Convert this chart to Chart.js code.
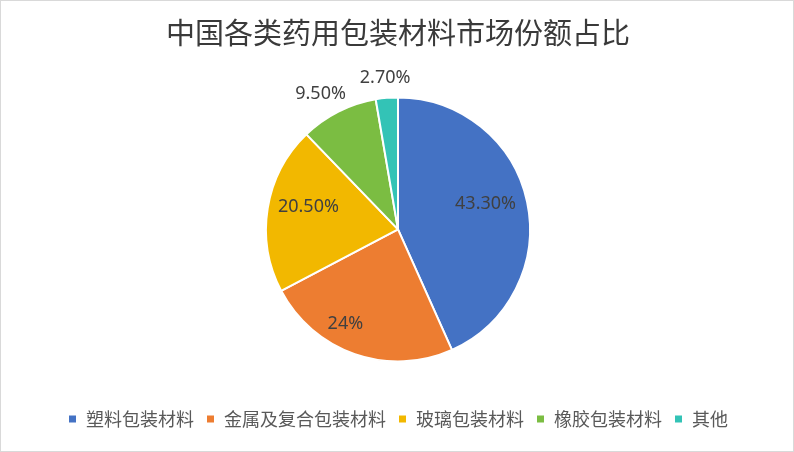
<!DOCTYPE html>
<html>
<head>
<meta charset="utf-8">
<script src="https://cdn.jsdelivr.net/npm/chart.js@4"></script>
<style>
  html, body { margin: 0; padding: 0; background: #fff; }
  #wrap { position: relative; width: 794px; height: 452px; box-sizing: border-box; border: 1px solid #d9d9d9; }
  canvas { display: block; }
</style>
</head>
<body>
<div id="wrap"><canvas id="chart" width="792" height="450"></canvas></div>
<script>
/* ---------- data ---------- */
const categories = ["塑料包装材料", "金属及复合包装材料", "玻璃包装材料", "橡胶包装材料", "其他"];
const shares = [43.3, 24, 20.5, 9.5, 2.7];
const shareLabels = ["43.30%", "24%", "20.50%", "9.50%", "2.70%"];
const sliceColors = ["#4472C4", "#ED7D31", "#F2B800", "#7BBD42", "#33C3B6"];

// label placement: distance from centre (part of radius) and turn from mid-angle (degrees)
const labelRadius = [0.69, 0.82, 0.70, 1.18, 1.15];
const labelTurn = [-4, 10, 5, -3, 0];

const pieLabels = {
    id: "pieLabels",
    afterDatasetsDraw(chart) {
        const ctx = chart.ctx;
        const arcs = chart.getDatasetMeta(0).data;
        ctx.save();
        ctx.font = "18px 'Noto Sans', 'Noto Sans CJK SC', sans-serif";
        ctx.fillStyle = "#404040";
        ctx.textAlign = "center";
        ctx.textBaseline = "middle";
        arcs.forEach((arc, i) => {
            const mid = (arc.startAngle + arc.endAngle) / 2 + labelTurn[i] * Math.PI / 180;
            const r = arc.outerRadius * labelRadius[i];
            ctx.fillText(shareLabels[i], arc.x + Math.cos(mid) * r, arc.y + Math.sin(mid) * r);
        });
        ctx.restore();
    }
};

new Chart(document.getElementById("chart"), {
    type: "pie",
    data: {
        labels: categories,
        datasets: [{
            data: shares,
            backgroundColor: sliceColors,
            borderColor: "#fff",
            borderWidth: 2,
            radius: 132
        }]
    },
    options: {
        responsive: false,
        animation: false,
        layout: { padding: { top: 0, bottom: 13, left: 2 } },
        plugins: {
            title: {
                display: true,
                text: "中国各类药用包装材料市场份额占比",
                color: "#3a3a3a",
                font: { size: 29, family: "'Noto Sans CJK SC', sans-serif", weight: "normal" },
                padding: { top: 15, bottom: 10 }
            },
            legend: {
                position: "bottom",
                labels: {
                    color: "#595959",
                    boxWidth: 9,
                    boxHeight: 9,
                    padding: 12,
                    font: { size: 18, family: "'Noto Sans CJK SC', sans-serif" }
                }
            },
            tooltip: { enabled: false }
        }
    },
    plugins: [pieLabels]
});
</script>
</body>
</html>
